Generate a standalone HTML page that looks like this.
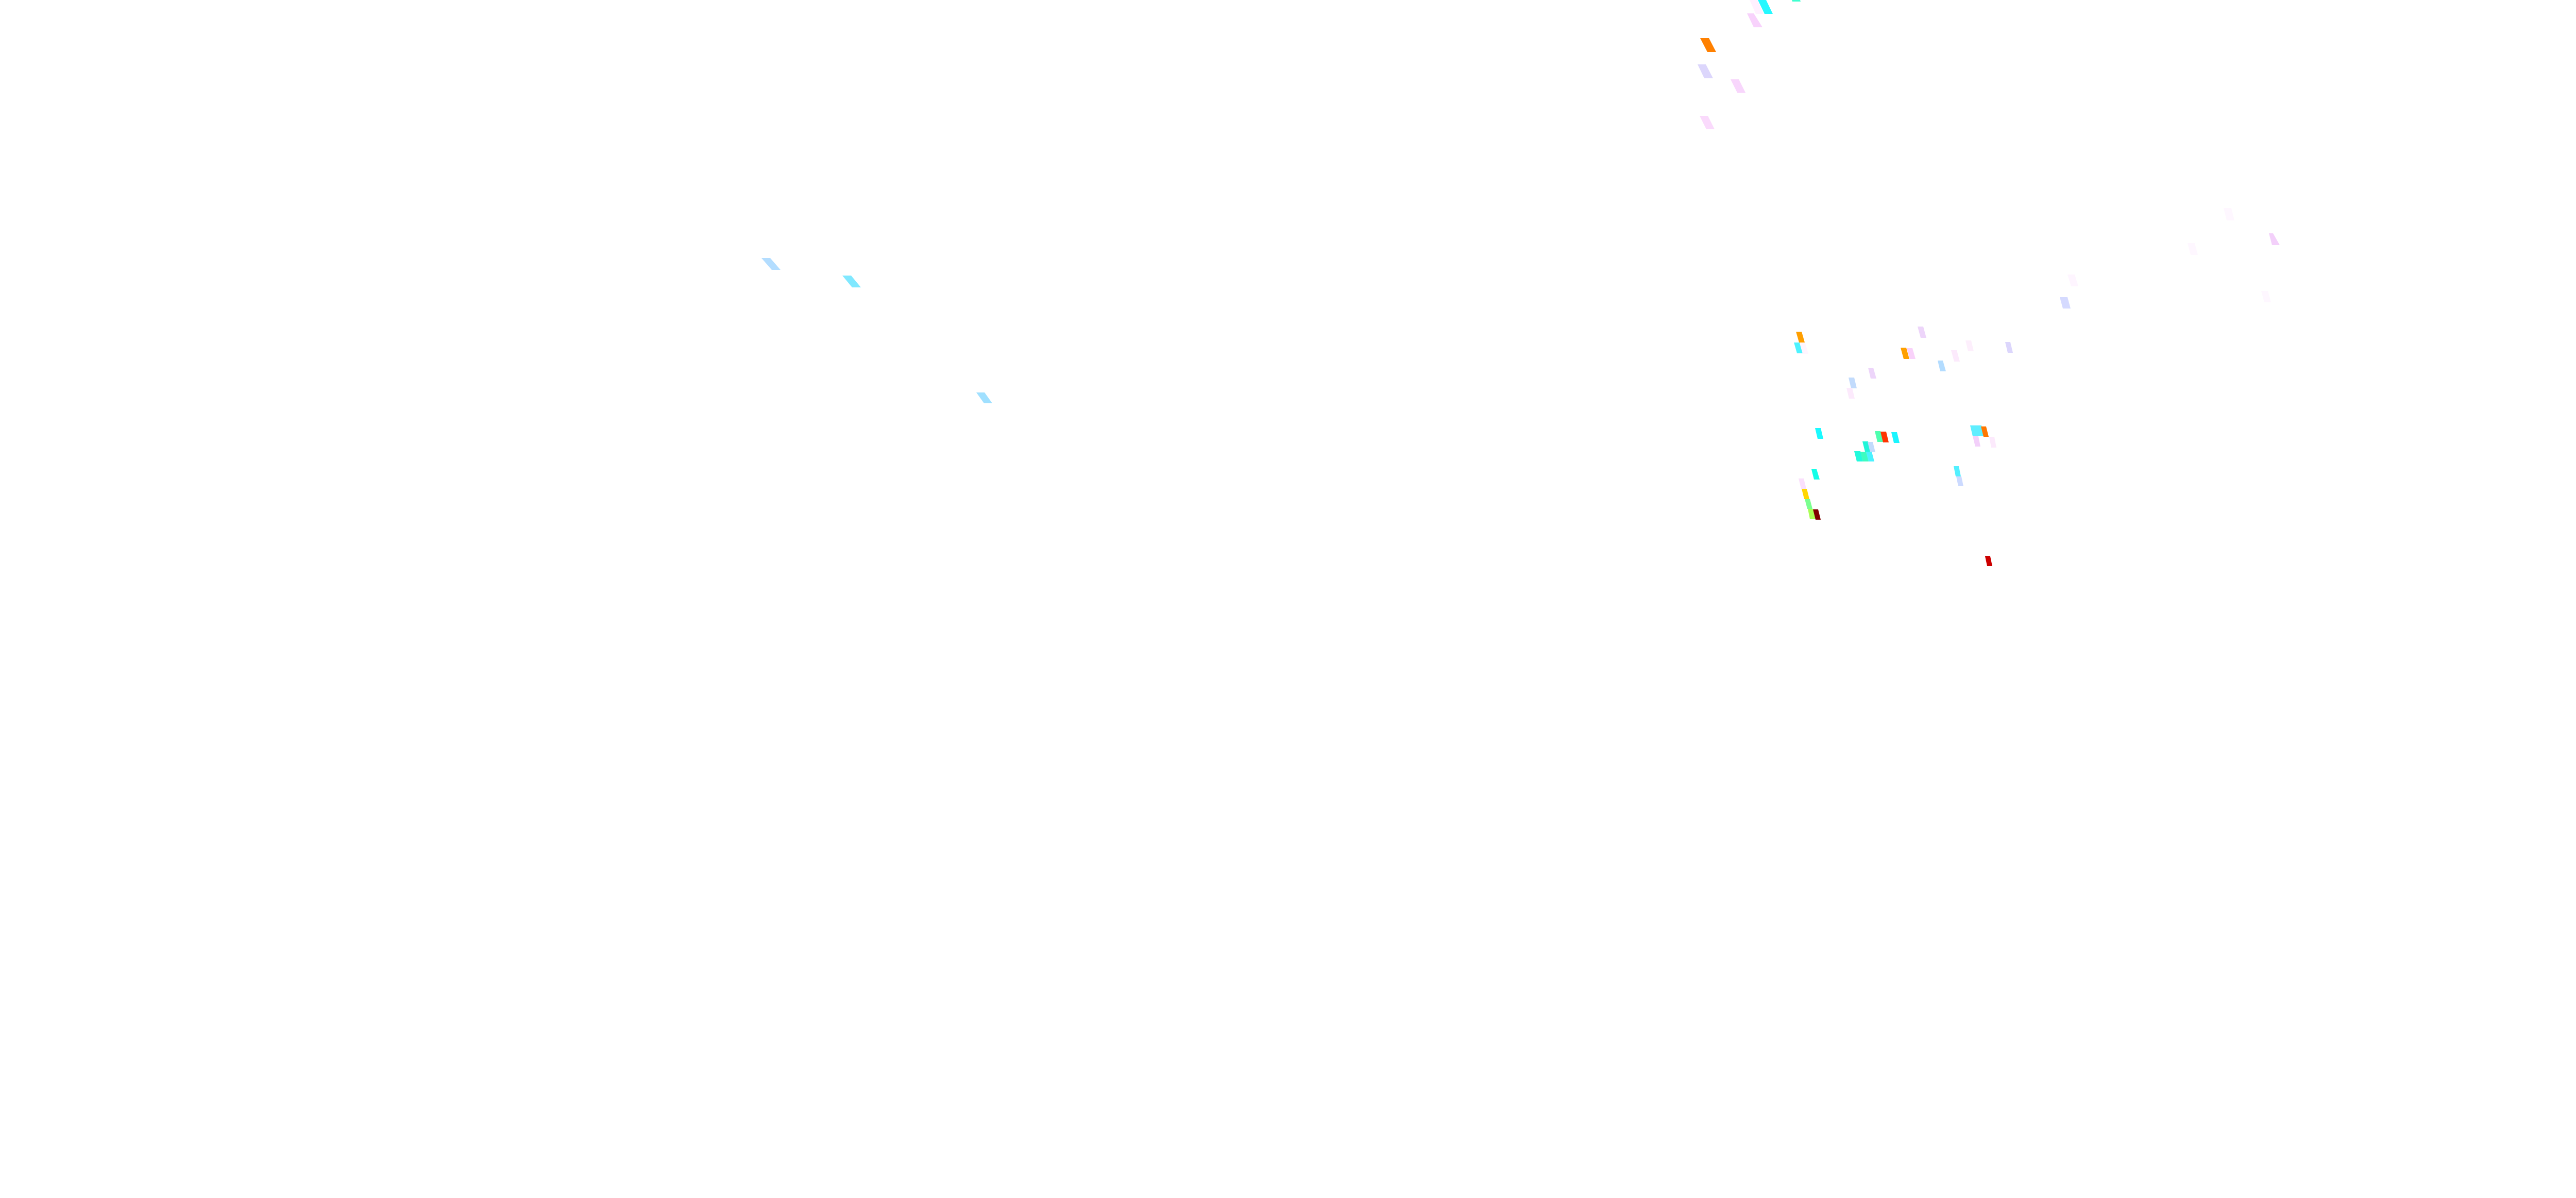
<!DOCTYPE html>
<html><head><meta charset="utf-8"><style>
html,body{margin:0;padding:0;background:#fff;width:5340px;height:2326px;overflow:hidden;}
svg{display:block;overflow:hidden;}
</style></head><body>
<svg width="5340" height="2326" viewBox="0 0 5340 2326" xmlns="http://www.w3.org/2000/svg">
<rect width="5340" height="2326" fill="#fff"/>
<g>
<polygon points="1478,501 1495,501 1515,524 1498,524" fill="#B3DDFF"/>
<polygon points="1635,535 1652,535 1671,558 1654,558" fill="#80E8FF"/>
<polygon points="1895,762 1911,762 1926,783 1910,783" fill="#A0E0FF"/>
<polygon points="3396,0 3411,0 3423,27 3408,27" fill="#FFF0FF"/>
<polygon points="3412,0 3428,0 3441,27 3425,27" fill="#25F8FF"/>
<polygon points="3478,0 3494,0 3495,3 3479,3" fill="#3FFFD0"/>
<polygon points="3391,26 3404,26 3421,53 3404,53" fill="#F8D2FC"/>
<polygon points="3300,74 3317,74 3331,101 3314,101" fill="#FF8000"/>
<polygon points="3295,125 3311,125 3325,152 3308,152" fill="#DCD6FC"/>
<polygon points="3359,154 3375,154 3388,180 3372,180" fill="#F8D6FC"/>
<polygon points="3299,225 3315,225 3328,251 3312,251" fill="#FADAFC"/>
<polygon points="3486,644 3497,644 3503,665 3492,665" fill="#FF9F00"/>
<polygon points="3482,665 3493,665 3499,686 3488,686" fill="#4DF3FF"/>
<polygon points="3493,666 3504,666 3510,687 3499,687" fill="#FFF5FF"/>
<polygon points="3689,675 3700,675 3706,697 3695,697" fill="#FFA000"/>
<polygon points="3701,676 3712,676 3718,697 3707,697" fill="#F9D2FA"/>
<polygon points="3722,634 3733,634 3739,656 3728,656" fill="#EDD5FA"/>
<polygon points="3815,661 3826,661 3831,682 3820,682" fill="#FDEFFC"/>
<polygon points="3892,664 3902,664 3907,685 3897,685" fill="#DCD6FC"/>
<polygon points="3787,680 3798,680 3804,702 3793,702" fill="#FCEAFC"/>
<polygon points="3761,700 3771,700 3777,721 3766,721" fill="#B3DCFF"/>
<polygon points="3626,714 3636,714 3642,735 3631,735" fill="#EDD5FA"/>
<polygon points="3588,733 3599,733 3604,754 3593,754" fill="#C2DBFC"/>
<polygon points="3584,753 3595,753 3600,774 3589,774" fill="#FCEAFC"/>
<polygon points="3523,831 3534,831 3539,852 3528,852" fill="#1AFAFF"/>
<polygon points="3639,837 3650,837 3655,858 3644,858" fill="#4FFFAF"/>
<polygon points="3650,838 3661,838 3666,859 3655,859" fill="#FF3300"/>
<polygon points="3671,839 3682,839 3687,860 3676,860" fill="#1AF5FF"/>
<polygon points="3615,857 3626,857 3631,877 3620,877" fill="#20F5D8"/>
<polygon points="3625,858 3635,858 3640,878 3630,878" fill="#C2DBFC"/>
<polygon points="3599,876 3611,876 3616,896 3604,896" fill="#22FADC"/>
<polygon points="3611,877 3622,877 3627,896 3616,896" fill="#3DFCC0"/>
<polygon points="3622,877 3633,877 3638,896 3627,896" fill="#4AF2FF"/>
<polygon points="3824,826 3846,826 3851,847 3829,847" fill="#5FEEFF"/>
<polygon points="3845,828 3855,828 3860,848 3850,848" fill="#FF7700"/>
<polygon points="3829,847 3840,847 3844,867 3834,867" fill="#F3D0FA"/>
<polygon points="3861,848 3871,848 3875,869 3865,869" fill="#FCEAFC"/>
<polygon points="3516,911 3526,911 3532,931 3521,931" fill="#12FFE8"/>
<polygon points="3491,929 3501,929 3506,949 3496,949" fill="#FAE0FC"/>
<polygon points="3497,949 3507,949 3512,969 3502,969" fill="#FFD600"/>
<polygon points="3503,969 3513,969 3518,988 3508,988" fill="#7BFF8F"/>
<polygon points="3509,988 3519,988 3524,1008 3513,1008" fill="#AAFF55"/>
<polygon points="3519,989 3529,989 3534,1009 3524,1009" fill="#800000"/>
<polygon points="3792,905 3802,905 3806,925 3796,925" fill="#52F0FF"/>
<polygon points="3797,925 3807,925 3811,944 3801,944" fill="#CCDAFF"/>
<polygon points="3853,1080 3863,1080 3867,1099 3857,1099" fill="#CC0000"/>
<polygon points="4316,404 4331,404 4337,428 4322,428" fill="#FEF7FF"/>
<polygon points="4404,453 4412,453 4425,476 4410,476" fill="#F3D0FA"/>
<polygon points="4246,472 4260,472 4266,495 4252,495" fill="#FEF7FF"/>
<polygon points="4013,533 4027,533 4034,556 4020,556" fill="#FEF5FF"/>
<polygon points="3998,577 4013,577 4019,599 4004,599" fill="#D5DAFF"/>
<polygon points="4389,565 4402,565 4408,587 4395,587" fill="#FEF7FF"/>
</g>
</svg>
</body></html>
